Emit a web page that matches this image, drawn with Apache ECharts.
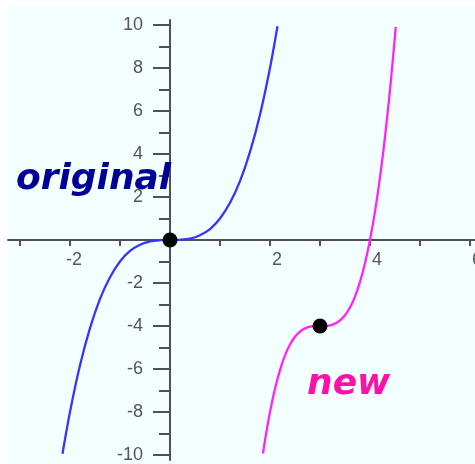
<!DOCTYPE html>
<html>
<head>
<meta charset="utf-8">
<script src="https://cdn.jsdelivr.net/npm/echarts@6/dist/echarts.min.js"></script>
<style>
  html, body { margin: 0; padding: 0; background: #ffffff; }
  #chart { width: 475px; height: 464px; }
</style>
</head>
<body>
<div id="chart"></div>
<script>
// y = x^3, sampled along the visible window
const originalX = [-2.15, -2.0, -1.8, -1.6, -1.4, -1.2, -1.0, -0.8, -0.6, -0.4, -0.2, 0,
                   0.2, 0.4, 0.6, 0.8, 1.0, 1.2, 1.4, 1.6, 1.8, 2.0, 2.15];
const originalY = [-9.94, -8, -5.83, -4.10, -2.74, -1.73, -1, -0.51, -0.22, -0.06, -0.01, 0,
                   0.01, 0.06, 0.22, 0.51, 1, 1.73, 2.74, 4.10, 5.83, 8, 9.94];

// shifted / stretched curve
const newX = [1.86, 1.9, 2.0, 2.1, 2.2, 2.3, 2.4, 2.5, 2.6, 2.7, 2.8, 2.9, 3.0,
              3.1, 3.2, 3.3, 3.4, 3.5, 3.6, 3.7, 3.8, 3.9, 4.0, 4.1, 4.2, 4.3, 4.4, 4.5, 4.515];
const newY = [-9.93, -9.32, -8, -6.92, -6.05, -5.37, -4.86, -4.5, -4.26, -4.11, -4.03, -4.00, -4,
              -4.00, -3.97, -3.89, -3.74, -3.5, -3.14, -2.63, -1.95, -1.08, 0, 1.32, 2.91, 4.79, 6.98, 9.5, 9.91];

// key points (centres of the cubics)
const keyX = [0, 3];
const keyY = [0, -4];

const xTicks = { min: -3, max: 6, step: 1 };
const yTicks = { min: -10, max: 10, step: 2 };

const pair = (xs, ys) => xs.map((x, i) => [x, ys[i]]);

const axisGray = '#505050';
const chart = echarts.init(document.getElementById('chart'), null, { renderer: 'canvas' });

// plot box: x -3..6 over 450px, y -10..10 over 430px; axes cross at the origin
chart.setOption({
  animation: false,
  graphic: [
    { type: 'rect', left: 8, top: 6, z: -10,
      shape: { width: 467, height: 458 }, style: { fill: '#f2fffe' } },
    { type: 'text', x: 16, y: 180, z: 100,
      style: { text: 'original', font: 'italic bold 36px "DejaVu Sans"', fill: '#000096',
               align: 'left', verticalAlign: 'middle' } },
    { type: 'text', x: 307, y: 385, z: 100,
      style: { text: 'new', font: 'italic bold 36px "DejaVu Sans"', fill: '#ff10a8',
               align: 'left', verticalAlign: 'middle' } }
  ],
  grid: [
    { left: 20, right: 5, top: 25, bottom: 9, outerBoundsMode: 'none' },
    { left: 8, right: 0, top: 20, bottom: 4, outerBoundsMode: 'none' }
  ],
  xAxis: [
    {
      type: 'value', gridIndex: 0, min: xTicks.min, max: xTicks.max, interval: xTicks.step,
      position: 'bottom', offset: -215,
      axisLine: { show: false, onZero: false },
      axisTick: { show: true, length: 6, lineStyle: { color: axisGray, width: 2 } },
      splitLine: { show: false },
      axisLabel: {
        show: true, margin: 11, showMaxLabel: true, showMinLabel: true,
        formatter: v => (v % 2 !== 0 || v === 0) ? '' : (v < 0 ? '{n|' + v + '}' : '{p|' + v + '}'),
        rich: {
          n: { fontSize: 18, color: '#555', fontFamily: '"Liberation Sans", Arial', padding: [0, 0, 0, 8] },
          p: { fontSize: 18, color: '#555', fontFamily: '"Liberation Sans", Arial', padding: [0, 0, 0, 14] }
        }
      }
    },
    {
      type: 'value', gridIndex: 1, min: -3.24, max: 6.1,
      axisLine: { show: true, onZero: true, lineStyle: { color: axisGray, width: 2 } },
      axisTick: { show: false }, axisLabel: { show: false }, splitLine: { show: false }
    }
  ],
  yAxis: [
    {
      type: 'value', gridIndex: 0, min: yTicks.min, max: yTicks.max, interval: yTicks.step,
      position: 'left', offset: -150,
      axisLine: { show: false, onZero: false },
      axisTick: { show: true, length: 17, lineStyle: { color: axisGray, width: 2 } },
      minorTick: { show: true, splitNumber: 2, length: 11, lineStyle: { color: axisGray, width: 2 } },
      splitLine: { show: false },
      axisLabel: {
        show: true, margin: 27, fontSize: 18, color: '#555', fontFamily: '"Liberation Sans", Arial',
        formatter: v => v === 0 ? '' : String(v)
      }
    },
    {
      type: 'value', gridIndex: 1, min: -10.23, max: 10.23,
      axisLine: { show: true, onZero: true, lineStyle: { color: axisGray, width: 2 } },
      axisTick: { show: false }, axisLabel: { show: false }, splitLine: { show: false }
    }
  ],
  series: [
    {
      type: 'line', xAxisIndex: 0, yAxisIndex: 0, data: pair(originalX, originalY),
      smooth: 0.3, showSymbol: false, symbol: 'none',
      lineStyle: { color: '#3535ff', width: 2.3 }, z: 5
    },
    {
      type: 'line', xAxisIndex: 0, yAxisIndex: 0, data: pair(newX, newY),
      smooth: 0.3, showSymbol: false, symbol: 'none',
      lineStyle: { color: '#ff22ff', width: 2.3 }, z: 5
    },
    {
      type: 'scatter', xAxisIndex: 0, yAxisIndex: 0, data: pair(keyX, keyY),
      symbol: 'circle', symbolSize: 15, itemStyle: { color: '#000000', opacity: 1 }, z: 10
    }
  ]
});
</script>
</body>
</html>
